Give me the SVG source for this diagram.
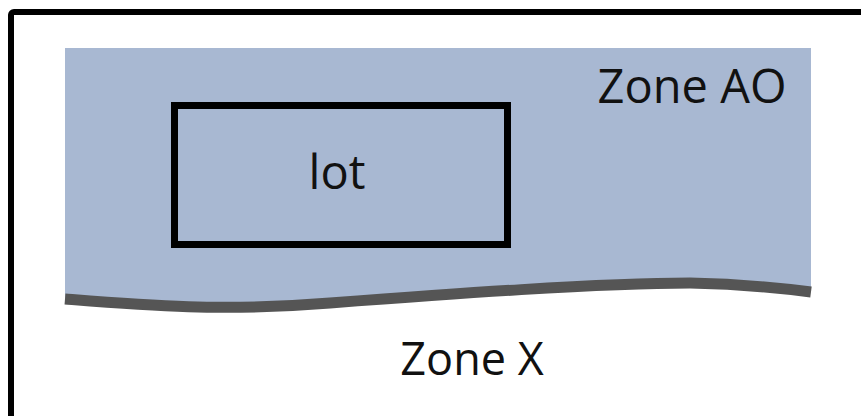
<svg xmlns="http://www.w3.org/2000/svg" width="861" height="416" viewBox="0 0 861 416">
<style>
.t{font-family:"Open Sans","Noto Sans","Liberation Sans",sans-serif;fill:#111;text-anchor:middle}
</style>
<rect width="861" height="416" fill="#fff"/>
<rect x="11" y="12" width="870" height="430" rx="3" fill="none" stroke="#000" stroke-width="6"/>
<g id="zone-ao">
<path d="M65,48 H811 V292 C780,288 740,284 690,283 C600,283 450,294 330,303 C220,312 140,305 65,299 Z" fill="#A8B8D2"/>
<text class="t" x="692" y="103" font-size="47">Zone AO</text>
</g>
<g id="boundary">
<path d="M65,299 C140,305 220,312 330,303 C450,294 600,283 690,283 C740,284 780,288 811,292" fill="none" stroke="#555" stroke-width="11"/>
</g>
<g id="lot">
<rect x="174.5" y="105.5" width="333" height="139" fill="none" stroke="#000" stroke-width="7"/>
<text class="t" x="337" y="189" font-size="47">lot</text>
</g>
<g id="zone-x">
<text class="t" x="472" y="375" font-size="45">Zone X</text>
</g>
</svg>
